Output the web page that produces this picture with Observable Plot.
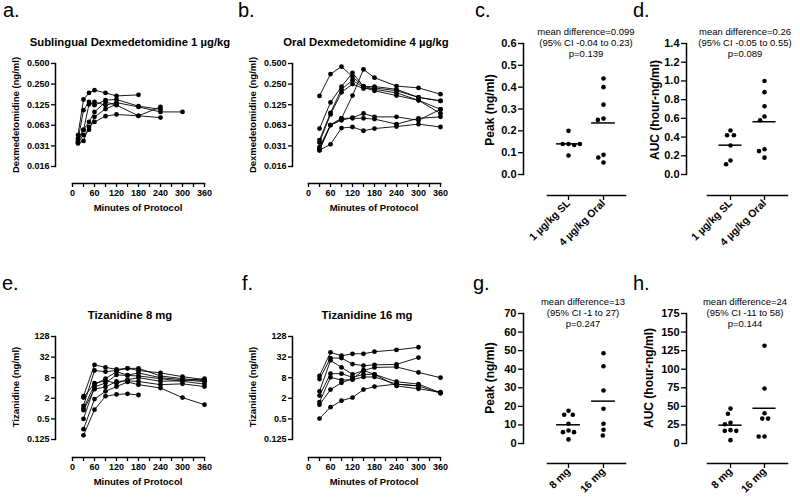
<!DOCTYPE html>
<html><head><meta charset="utf-8">
<script src="https://cdn.jsdelivr.net/npm/d3@7"></script>
<script src="https://cdn.jsdelivr.net/npm/@observablehq/plot@0.6"></script>
<style>
html,body{margin:0;padding:0;background:#fff;}
#root{position:relative;width:800px;height:504px;overflow:hidden;background:#fff;font-family:"Liberation Sans",Arial,Helvetica,sans-serif;color:#000;}
#root svg{position:absolute;overflow:visible;}
#root svg text{font-weight:bold;}
.t{position:absolute;white-space:nowrap;line-height:1;color:#000;}
</style></head><body><div id="root"></div>
<script>
// ---------- DATA ----------
const minuteTicks = [0,30,60,90,120,150,180,210,240,270,300,330,360];
const dexTicks = [0.5,0.25,0.125,0.0625,0.03125,0.015625];
const dexTickLabels = ["0.500","0.250","0.125","0.063","0.031","0.016"];
const tizTicks = [128,32,8,2,0.5,0.125];
const tizTickLabels = ["128","32","8","2","0.5","0.125"];

// a. Sublingual dexmedetomidine 1 µg/kg (ng/ml), one row per participant
const dexSLTimes = [15,30,45,60,90,120,180,240,300];
const dexSL = [
  [0.045,0.149,0.186,0.204,0.186,0.168,0.174,null,null],
  [0.038,0.104,0.137,0.123,0.146,0.149,0.119,0.107,null],
  [0.036,0.053,0.127,0.137,0.123,0.134,0.116,0.098,0.098],
  [0.034,0.037,0.059,0.070,0.085,0.090,0.086,0.081,null],
  [0.040,0.054,0.070,0.098,0.137,0.123,0.086,0.116,null],
  [0.035,0.045,0.054,0.083,0.108,0.127,null,null,null]
];
// b. Oral dexmedetomidine 4 µg/kg (ng/ml)
const dexOralTimes = [30,60,90,120,150,180,240,300,360];
const dexOral = [
  [0.168,0.35,0.45,0.32,0.23,0.23,0.21,0.16,0.142],
  [0.056,0.135,0.23,0.365,0.233,0.21,0.186,0.145,0.107],
  [0.038,0.095,0.21,0.285,0.222,0.20,0.17,0.145,0.093],
  [0.035,0.09,0.19,0.25,0.215,0.22,0.20,0.16,0.142],
  [0.028,0.063,0.079,0.17,0.41,0.31,0.234,0.22,0.178],
  [0.027,0.063,0.074,0.081,0.093,0.083,0.083,0.074,0.107],
  [0.030,0.063,0.079,0.079,0.079,0.077,0.065,0.079,0.083],
  [0.027,0.033,0.057,0.059,0.052,0.056,0.060,0.065,0.059]
];
// e. Tizanidine 8 mg (ng/ml)
const tizTimes = [30,60,90,120,150,180,240,300,360];
const tiz8 = [
  [2.3,19,16,14,15,13,11,8.6,7.0],
  [1.2,13,12,13,15,15,9,7.5,6.5],
  [1.0,5.0,7.5,12,9.5,11,8,7,6.1],
  [0.5,4.3,5.6,9.7,9.3,9,7.5,6.3,5.2],
  [0.9,3.7,4.3,6.2,6.5,6.2,5,5.3,4.4],
  [0.25,1.9,3.2,4.4,6.0,5.0,4.0,2.1,1.3],
  [0.165,0.93,2.3,2.6,2.7,2.5,null,null,null],
  [2.1,5.5,6.5,5.5,7.0,8.0,6.3,6.5,7.5]
];
// f. Tizanidine 16 mg (ng/ml)
const tiz16 = [
  [9.1,44,35,40,40,46,52,62,null],
  [7.3,30,30,20,18,19,19.6,31,null],
  [3.2,25.6,16,10,13,16,16.5,11.4,8.0],
  [2.4,10.5,10.5,8.2,10,10,6.1,5.2,2.9],
  [1.55,8.2,6.8,7.0,8.4,8.4,5.2,4.6,2.8],
  [1.3,3.6,5.7,7.5,13,10,4.6,3.8,3.0],
  [0.51,1.1,1.7,2.1,3.6,4.4,5.2,4.6,null]
];
// c, d: dexmedetomidine peak and AUC
const dexGroups = ["1 µg/kg SL","4 µg/kg Oral"];
const dexPeakSL = [0.20,0.14,0.14,0.135,0.14,0.087];
const dexPeakOral = [0.44,0.40,0.32,0.256,0.25,0.09,0.055,0.078];
const dexAucSL = [0.47,0.42,0.42,0.31,0.15,0.11];
const dexAucOral = [1.00,0.88,0.73,0.62,0.58,0.27,0.25,0.18];
// g, h: tizanidine peak and AUC
const tizGroups = ["8 mg","16 mg"];
const tizPeak8 = [17.6,15.5,15.5,10.6,7.0,6.1,6.1,2.2];
const tizPeak16 = [48.6,41.6,28.5,18.7,10.6,7.4,4.3];
const tizAuc8 = [47,40,28,26,18,17,17,4.5];
const tizAuc16 = [131.5,74,40.7,33.5,33.5,9.4,9.4];

const peakDexTicks = [0,0.1,0.2,0.3,0.4,0.5,0.6];
const aucDexTicks = [0,0.2,0.4,0.6,0.8,1.0,1.2,1.4];
const peakTizTicks = [0,10,20,30,40,50,60,70];
const aucTizTicks = [0,25,50,75,100,125,150,175];

const statsC = ["mean difference=0.099","(95% CI -0.04 to 0.23)","p=0.139"];
const statsD = ["mean difference=0.26","(95% CI -0.05 to 0.55)","p=0.089"];
const statsG = ["mean difference=13","(95% CI -1 to 27)","p=0.247"];
const statsH = ["mean difference=24","(95% CI -11 to 58)","p=0.144"];

// ---------- LAYOUT HELPERS ----------
const root = document.getElementById("root");
const FONT = '"Liberation Sans", Arial, Helvetica, sans-serif';

function place(el, left, top) {
  el.style.left = left + "px";
  el.style.top = top + "px";
  root.append(el);
}
function text(str, x, y, {size = 10, weight = "bold", anchor = "middle", rotate = false} = {}) {
  const d = document.createElement("div");
  d.className = "t";
  d.textContent = str;
  d.style.fontSize = size + "px";
  d.style.fontWeight = weight;
  d.style.left = x + "px";
  if (rotate) {
    d.style.top = y + "px";
    d.style.transform = "translate(-50%,-50%) rotate(-90deg)";
  } else {
    d.style.top = (y - 0.8465 * size) + "px";
    if (anchor === "middle") d.style.transform = "translateX(-50%)";
  }
  root.append(d);
}

function linePanel({times, series, yTicks, yTickLabels, frameLeft, frameRight, x0, frameTop, yBottom, axisY}) {
  const mL = 40, mR = 14, mT = 8, mB = 26;
  const width = mL + (frameRight - frameLeft) + mR;
  const height = mT + (axisY - frameTop) + mB;
  const insetLeft = x0 - frameLeft, insetBottom = axisY - yBottom;
  const data = series.flatMap((vals, id) =>
    vals.map((v, j) => ({id, t: times[j], v})).filter(d => d.v != null));
  const svg = Plot.plot({
    width, height, marginLeft: mL, marginRight: mR, marginTop: mT, marginBottom: mB,
    insetLeft, insetBottom,
    style: {background: "transparent", overflow: "visible", fontFamily: FONT, fontSize: "9px", color: "black"},
    x: {domain: [0, 360]},
    y: {type: "log", base: 2, domain: [d3.min(yTicks), d3.max(yTicks)]},
    marks: [
      Plot.frame({anchor: "left", insetBottom, stroke: "black", strokeWidth: 1.5}),
      Plot.frame({anchor: "bottom", insetLeft, stroke: "black", strokeWidth: 1.5}),
      Plot.axisY({ticks: yTicks, tickFormat: d => yTickLabels[yTicks.indexOf(d)], tickSize: 4, tickPadding: 2, label: null, strokeWidth: 1.3}),
      Plot.axisX({ticks: minuteTicks, tickFormat: d => d % 60 === 0 ? String(d) : "", tickSize: 4, tickPadding: 2, label: null, strokeWidth: 1.3}),
      Plot.line(data, {x: "t", y: "v", z: "id", stroke: "black", strokeWidth: 0.9}),
      Plot.dot(data, {x: "t", y: "v", r: 2.4, fill: "black"})
    ]
  });
  place(svg, frameLeft - mL, frameTop - mT);
}

function dodge(vals, toPx, gap) {
  const placed = [];
  return vals.map(v => {
    const y = toPx(v);
    const cands = [0];
    for (const p of placed) {
      const dy = Math.abs(p.y - y);
      if (dy < gap) { const dx = Math.sqrt(gap * gap - dy * dy); cands.push(p.x - dx, p.x + dx); }
    }
    cands.sort((a, b) => Math.abs(a) - Math.abs(b) || a - b);
    const x = cands.find(c => placed.every(p => (p.x - c) ** 2 + (p.y - y) ** 2 >= gap * gap - 1e-6));
    placed.push({x, y});
    return x;
  });
}

function scatterPanel({groups, values, yTicks, yFormat, frameLeft, frameRight, axisStart, cat0, cat1, frameTop, yBottom, axisY}) {
  const mL = 38, mR = 12, mT = 8, mB = 66;
  const width = mL + (frameRight - frameLeft) + mR;
  const height = mT + (axisY - frameTop) + mB;
  const insetLeft = axisStart - frameLeft, insetBottom = axisY - yBottom;
  const unit = cat1 - cat0;
  const yMax = d3.max(yTicks);
  const ys = Plot.scale({y: {domain: [0, yMax], range: [yBottom, frameTop]}});
  const r = 2.3, gap = 2 * r + 1.2;
  const pts = [], means = [];
  values.forEach((vals, i) => {
    const offs = dodge(vals, v => ys.apply(v), gap);
    vals.forEach((v, k) => pts.push({x: i + offs[k] / unit, v}));
    means.push({i, mean: d3.mean(vals)});
  });
  const svg = Plot.plot({
    width, height, marginLeft: mL, marginRight: mR, marginTop: mT, marginBottom: mB,
    insetLeft, insetBottom,
    style: {background: "transparent", overflow: "visible", fontFamily: FONT, fontSize: "11px", color: "black"},
    x: {domain: [(axisStart - cat0) / unit, (frameRight - cat0) / unit]},
    y: {domain: [0, yMax]},
    marks: [
      Plot.frame({anchor: "left", insetBottom, stroke: "black", strokeWidth: 1.5}),
      Plot.frame({anchor: "bottom", insetLeft, stroke: "black", strokeWidth: 1.5}),
      Plot.axisY({ticks: yTicks, tickFormat: yFormat, tickSize: 5, tickPadding: 2, label: null, strokeWidth: 1.3}),
      Plot.axisX({ticks: [0, 1], tickFormat: i => groups[i], tickSize: 5, tickPadding: 1, tickRotate: -45, label: null, fontSize: 10.5, strokeWidth: 1.3}),
      Plot.ruleY(means, {y: "mean", x1: d => d.i - 0.34, x2: d => d.i + 0.34, stroke: "black", strokeWidth: 1.5}),
      Plot.dot(pts, {x: "x", y: "v", r, fill: "black"})
    ]
  });
  place(svg, frameLeft - mL, frameTop - mT);
}

// ---------- PANELS ----------
linePanel({times: dexSLTimes, series: dexSL, yTicks: dexTicks, yTickLabels: dexTickLabels,
  frameLeft: 55, frameRight: 204, x0: 72, frameTop: 63, yBottom: 166, axisY: 183});
linePanel({times: dexOralTimes, series: dexOral, yTicks: dexTicks, yTickLabels: dexTickLabels,
  frameLeft: 292, frameRight: 440, x0: 308, frameTop: 63, yBottom: 166, axisY: 183});
linePanel({times: tizTimes, series: tiz8, yTicks: tizTicks, yTickLabels: tizTickLabels,
  frameLeft: 55, frameRight: 204, x0: 72, frameTop: 336, yBottom: 439, axisY: 457});
linePanel({times: tizTimes, series: tiz16, yTicks: tizTicks, yTickLabels: tizTickLabels,
  frameLeft: 292, frameRight: 440, x0: 308, frameTop: 336, yBottom: 439, axisY: 457});

scatterPanel({groups: dexGroups, values: [dexPeakSL, dexPeakOral], yTicks: peakDexTicks, yFormat: d3.format(".1f"),
  frameLeft: 523, frameRight: 625, axisStart: 547, cat0: 568, cat1: 603, frameTop: 43, yBottom: 174, axisY: 195});
scatterPanel({groups: dexGroups, values: [dexAucSL, dexAucOral], yTicks: aucDexTicks, yFormat: d3.format(".1f"),
  frameLeft: 686, frameRight: 787, axisStart: 707, cat0: 730, cat1: 764, frameTop: 43, yBottom: 174, axisY: 195});
scatterPanel({groups: tizGroups, values: [tizPeak8, tizPeak16], yTicks: peakTizTicks, yFormat: d3.format("d"),
  frameLeft: 523, frameRight: 625, axisStart: 547, cat0: 568, cat1: 603, frameTop: 313, yBottom: 443, axisY: 463});
scatterPanel({groups: tizGroups, values: [tizAuc8, tizAuc16], yTicks: aucTizTicks, yFormat: d3.format("d"),
  frameLeft: 686, frameRight: 787, axisStart: 707, cat0: 730, cat1: 764, frameTop: 313, yBottom: 443, axisY: 463});

// ---------- TEXT ----------
const letters = [["a.",3,17],["b.",238,17],["c.",475,17],["d.",633,17],["e.",2,290],["f.",242,290],["g.",473,290],["h.",633,290]];
letters.forEach(([s, x, y]) => text(s, x, y, {size: 20, weight: "normal", anchor: "start"}));

text("Sublingual Dexmedetomidine 1 µg/kg", 130, 46.7, {size: 11.3});
text("Oral Dexmedetomidine 4 µg/kg", 366, 46.7, {size: 11.3});
text("Tizanidine 8 mg", 130, 320, {size: 11.3});
text("Tizanidine 16 mg", 367, 320, {size: 11.3});

text("Minutes of Protocol", 138, 211, {size: 9.5});
text("Minutes of Protocol", 374, 211, {size: 9.5});
text("Minutes of Protocol", 138, 485, {size: 9.5});
text("Minutes of Protocol", 374, 485, {size: 9.5});

text("Dexmedetomidine (ng/ml)", 16, 115, {size: 9.5, rotate: true});
text("Dexmedetomidine (ng/ml)", 253, 115, {size: 9.5, rotate: true});
text("Tizanidine (ng/ml)", 16, 387, {size: 9.5, rotate: true});
text("Tizanidine (ng/ml)", 253, 387, {size: 9.5, rotate: true});
text("Peak (ng/ml)", 489.5, 110, {size: 12, rotate: true});
text("AUC (hour-ng/ml)", 655, 110, {size: 12, rotate: true});
text("Peak (ng/ml)", 490, 378, {size: 12, rotate: true});
text("AUC (hour-ng/ml)", 648.5, 378, {size: 12, rotate: true});

function stats(lines, cx, base) {
  lines.forEach((s, i) => text(s, cx, base + i * 10.8, {size: 9.5, weight: "normal"}));
}
stats(statsC, 586, 35.5);
stats(statsD, 745, 35.5);
stats(statsG, 583, 305.5);
stats(statsH, 745, 305.5);
</script></body></html>
